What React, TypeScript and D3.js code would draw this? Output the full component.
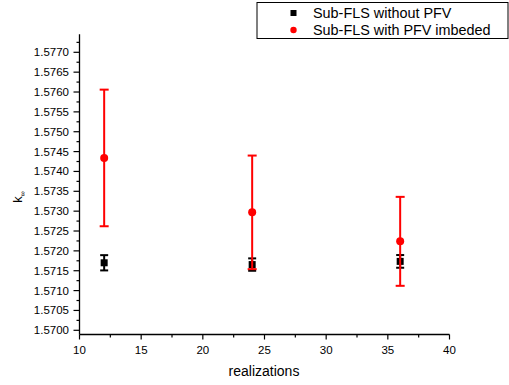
import React from "react";
import * as d3 from "d3";

const realizations = [12, 24, 36];
const withoutMean = [1.5717, 1.571655, 1.571735];
const withoutErr = [0.000192, 0.000156, 0.00016];
const withMean = [1.57434, 1.57297, 1.57224];
const withErr = [0.00172, 0.00143, 0.00112];
const yTicks = [1.57, 1.5705, 1.571, 1.5715, 1.572, 1.5725, 1.573, 1.5735, 1.574, 1.5745, 1.575, 1.5755, 1.576, 1.5765, 1.577];
const xTicks = [10, 15, 20, 25, 30, 35, 40];
const legendLabels = ["Sub-FLS without PFV", "Sub-FLS with PFV imbeded"];

const W = 509, H = 385;
const FONT = "'Liberation Sans', Arial, sans-serif";

export default function App() {
  const x = d3.scaleLinear().domain([10, 40]).range([79.5, 449.5]);
  const y = d3.scaleLinear().domain([1.5700, 1.5770]).range([330.3, 52.3]);
  const yTop = 34.3, yBottom = 334.5;
  const yMinor = d3.range(1.56975 + 0.0005, 1.5775, 0.0005).filter(v => y(v) >= yTop && y(v) <= yBottom);
  const xMinor = d3.range(12.5, 40, 5);

  return (
    <svg width={W} height={H} style={{ position: "absolute", left: 0, top: 0, background: "#fff" }} fontFamily={FONT}>
      <rect x={0} y={0} width={W} height={H} fill="#fff" />
      {/* axes */}
      <line x1={79.5} x2={79.5} y1={yTop} y2={yBottom} stroke="#000" strokeWidth={1.3} />
      <line x1={79.5} x2={449.5} y1={yBottom} y2={yBottom} stroke="#000" strokeWidth={1.3} />
      {yTicks.map((t, i) => (
        <g key={"yt" + i}>
          <line x1={73.5} x2={79.5} y1={y(t)} y2={y(t)} stroke="#000" strokeWidth={1.2} />
          <text x={69} y={y(t)} dy="0.35em" textAnchor="end" fontSize={11.5} fill="#000">{t.toFixed(4)}</text>
        </g>
      ))}
      {yMinor.map((t, i) => (
        <line key={"ym" + i} x1={76.5} x2={79.5} y1={y(t)} y2={y(t)} stroke="#000" strokeWidth={1.2} />
      ))}
      {xTicks.map((t, i) => (
        <g key={"xt" + i}>
          <line x1={x(t)} x2={x(t)} y1={yBottom} y2={yBottom + 5} stroke="#000" strokeWidth={1.2} />
          <text x={x(t)} y={yBottom + 19} textAnchor="middle" fontSize={11.5} fill="#000">{t}</text>
        </g>
      ))}
      {xMinor.map((t, i) => (
        <line key={"xm" + i} x1={x(t)} x2={x(t)} y1={yBottom} y2={yBottom + 3} stroke="#000" strokeWidth={1.2} />
      ))}
      <text x={264} y={376} textAnchor="middle" fontSize={14} fill="#000">realizations</text>
      <g transform="translate(22,197) rotate(-90)">
        <text x={0} y={0} textAnchor="middle" fontSize={13} fill="#000">
          k<tspan fontSize={7} dy={3}>∞</tspan>
        </text>
      </g>

      {/* black series */}
      {realizations.map((r, i) => (
        <g key={"b" + i}>
          <line x1={x(r)} x2={x(r)} y1={y(withoutMean[i] - withoutErr[i])} y2={y(withoutMean[i] + withoutErr[i])} stroke="#000" strokeWidth={2} />
          <line x1={x(r) - 4} x2={x(r) + 4} y1={y(withoutMean[i] - withoutErr[i])} y2={y(withoutMean[i] - withoutErr[i])} stroke="#000" strokeWidth={2} />
          <line x1={x(r) - 4} x2={x(r) + 4} y1={y(withoutMean[i] + withoutErr[i])} y2={y(withoutMean[i] + withoutErr[i])} stroke="#000" strokeWidth={2} />
          <rect x={x(r) - 3.5} y={y(withoutMean[i]) - 3.5} width={7} height={7} fill="#000" />
        </g>
      ))}
      {/* red series */}
      {realizations.map((r, i) => (
        <g key={"r" + i}>
          <line x1={x(r)} x2={x(r)} y1={y(withMean[i] - withErr[i])} y2={y(withMean[i] + withErr[i])} stroke="#ff0000" strokeWidth={2} />
          <line x1={x(r) - 4.5} x2={x(r) + 4.5} y1={y(withMean[i] - withErr[i])} y2={y(withMean[i] - withErr[i])} stroke="#ff0000" strokeWidth={2} />
          <line x1={x(r) - 4.5} x2={x(r) + 4.5} y1={y(withMean[i] + withErr[i])} y2={y(withMean[i] + withErr[i])} stroke="#ff0000" strokeWidth={2} />
          <circle cx={x(r)} cy={y(withMean[i])} r={4} fill="#ff0000" />
        </g>
      ))}

      {/* legend */}
      <rect x={257} y={2.5} width={251} height={36} fill="#fff" stroke="#000" strokeWidth={1} />
      <rect x={290.5} y={10} width={6} height={6} fill="#000" />
      <circle cx={293.5} cy={30} r={3.2} fill="#ff0000" />
      <text x={313} y={13} dy="0.35em" fontSize={14.4} fill="#000">{legendLabels[0]}</text>
      <text x={313} y={30} dy="0.35em" fontSize={14.4} fill="#000">{legendLabels[1]}</text>
    </svg>
  );
}
